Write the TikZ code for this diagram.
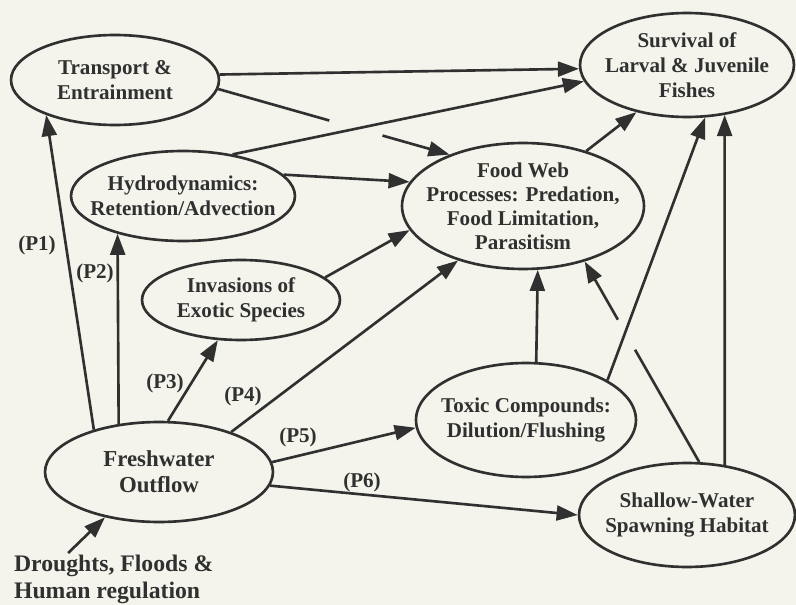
\documentclass[tikz,border=0pt]{standalone}
\usepackage{fontspec}
\setmainfont{Liberation Serif}
\usetikzlibrary{arrows.meta,shapes.geometric,calc}
\definecolor{paper}{RGB}{244,244,236}
\definecolor{ink}{RGB}{48,48,48}

\begin{document}
\begin{tikzpicture}[x=0.02cm,y=-0.02cm]
    \tikzset{Box/.style = {ellipse, draw=ink, line width=1.5pt,
        inner xsep=-10pt, inner ysep=-5pt, align=center, text=ink,
        font=\bfseries\fontsize{12}{14.2}\selectfont},
      EdgeStyle/.style = {draw=ink, line width=1.5pt,
        -{Triangle[length=12pt,width=8.5pt]}},
      PlainEdge/.style = {draw=ink, line width=1.5pt},
      LabelStyle/.style = {text=ink, font=\bfseries\fontsize{12}{14}\selectfont}}
    \fill[paper] (0,0) rectangle (796,605);
    \useasboundingbox (0,0) rectangle (796,605);
    % ellipses
    \node[Box, minimum width=4.16cm, minimum height=1.8cm] (trans) at (115,80) {Transport \&\\Entrainment};
    \node[Box, minimum width=4.28cm, minimum height=2.08cm] (surv) at (687,65) {Survival of\\Larval \& Juvenile\\Fishes};
    \node[Box, minimum width=4.48cm, minimum height=1.8cm] (hydro) at (183,196) {Hydrodynamics:\\Retention/Advection};
    \node[Box, minimum width=4.84cm, minimum height=2.52cm, font=\bfseries\fontsize{12}{13.6}\selectfont] (food) at (523,206) {Food Web\\Processes: Predation,\\Food Limitation,\\Parasitism};
    \node[Box, minimum width=3.96cm, minimum height=1.6cm] (inva) at (241,300) {Invasions of\\Exotic Species};
    \node[Box, minimum width=4.56cm, minimum height=2.0cm, font=\bfseries\fontsize{13}{15}\selectfont] (fresh) at (159,472) {Freshwater\\Outflow};
    \node[Box, minimum width=4.4cm, minimum height=2.28cm] (toxic) at (526,420) {Toxic Compounds:\\Dilution/Flushing};
    \node[Box, minimum width=4.32cm, minimum height=2.08cm] (shallow) at (687,515) {Shallow-Water\\Spawning Habitat};
    \node[anchor=north west, align=left, inner sep=1pt, text=ink,
      font=\bfseries\fontsize{13.5}{15.2}\selectfont] (drought) at (12,553) {Droughts, Floods \&\\Human regulation};
    % gaps where lines cross
    \path (trans.355) -- (food.145) coordinate[pos=0.48] (tfa) coordinate[pos=0.71] (tfb);
    \path (shallow.77) -- (food.318) coordinate[pos=0.56] (sfa) coordinate[pos=0.71] (sfb);
    % connectors
    \draw[EdgeStyle] (trans.3) -- (surv.182);
    \draw[PlainEdge] (trans.355) -- (tfa);
    \draw[EdgeStyle] (tfb) -- (food.145);
    \draw[EdgeStyle] (hydro.40) -- (surv.189);
    \draw[EdgeStyle] (hydro.12) -- (food.168);
    \draw[EdgeStyle] (inva.15) -- (food.192);
    \draw[EdgeStyle] (food.41) -- (surv.223);
    \draw[EdgeStyle] (fresh.147) -- (trans.207);
    \draw[EdgeStyle] (fresh.130) -- (hydro.210);
    \draw[EdgeStyle] (fresh.80) -- (inva.240);
    \draw[EdgeStyle] (fresh.29) -- (food.220);
    \draw[EdgeStyle] (fresh.5) -- (toxic.184);
    \draw[EdgeStyle] (fresh.353) -- (shallow.180);
    \draw[EdgeStyle] (toxic.80) -- (food.283);
    \draw[EdgeStyle] (toxic.26) -- (surv.289);
    \draw[PlainEdge] (shallow.77) -- (sfa);
    \draw[EdgeStyle] (sfb) -- (food.318);
    \draw[EdgeStyle] (shallow.53) -- (surv.307);
    \draw[EdgeStyle] (drought.150) -- (fresh.220);
    % path labels
    \node[LabelStyle] (p1) at (37,245) {(P1)};
    \node[LabelStyle] (p2) at (95,273) {(P2)};
    \node[LabelStyle] (p3) at (165,383) {(P3)};
    \node[LabelStyle] (p4) at (243,396) {(P4)};
    \node[LabelStyle] (p5) at (298,437) {(P5)};
    \node[LabelStyle] (p6) at (362,482) {(P6)};
\end{tikzpicture}
\end{document}
